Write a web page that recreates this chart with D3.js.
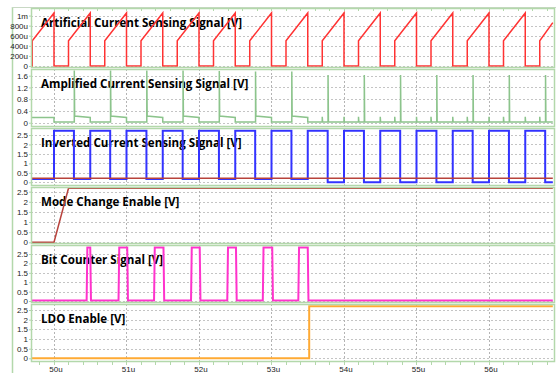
<!DOCTYPE html>
<html>
<head>
<meta charset="utf-8">
<script src="https://cdnjs.cloudflare.com/ajax/libs/d3/7.8.5/d3.min.js"></script>
<style>
body { margin: 0; background: #fff; }
svg { display: block; }
.title { font-family: "Open Sans", sans-serif; font-weight: bold; font-size: 11.6px; fill: #000; }
.tick-label { font-family: "Liberation Sans", Arial, sans-serif; font-size: 8px; fill: #222; }
</style>
</head>
<body>
<div id="chart"></div>
<script>
// time axis (microseconds)
const timeTicks = [50, 51, 52, 53, 54, 55, 56];
const timeLabels = ["50u", "51u", "52u", "53u", "54u", "55u", "56u"];

// panel titles
const titles = [
    "Artificial Current Sensing Signal [V]",
    "Amplified Current Sensing Signal [V]",
    "Inverted Current Sensing Signal [V]",
    "Mode Change Enable [V]",
    "Bit Counter Signal [V]",
    "LDO Enable [V]"
];

// y tick values / labels
const sensingTicks = [0, 0.0002, 0.0004, 0.0006, 0.0008, 0.001];
const sensingLabels = ["0", "200u", "400u", "600u", "800u", "1m"];
const ampTicks = [0, 0.4, 0.8, 1.2, 1.6];
const ampLabels = ["0", "0.4", "0.8", "1.2", "1.6"];
const voltTicks = [0, 0.5, 1, 1.5, 2, 2.5];
const voltLabels = ["0", "0.5", "1", "1.5", "2", "2.5"];

// signals: [time (us), volts]
const artificialSignal = [
    [49.68, 0], [49.70, 0], [49.70, 0.0005], [50.00, 0.00105], [50.00, 0],
    [50.20, 0], [50.20, 0.0005], [50.50, 0.00105], [50.50, 0],
    [50.70, 0], [50.70, 0.0005], [51.00, 0.00105], [51.00, 0],
    [51.20, 0], [51.20, 0.0005], [51.50, 0.00105], [51.50, 0],
    [51.70, 0], [51.70, 0.0005], [52.00, 0.00105], [52.00, 0],
    [52.20, 0], [52.20, 0.0005], [52.50, 0.00105], [52.50, 0],
    [52.70, 0], [52.70, 0.0005], [53.00, 0.00105], [53.00, 0],
    [53.20, 0], [53.20, 0.0005], [53.50, 0.00105], [53.50, 0],
    [53.70, 0], [53.70, 0.0005], [54.00, 0.00105], [54.00, 0],
    [54.20, 0], [54.20, 0.0005], [54.50, 0.00105], [54.50, 0],
    [54.70, 0], [54.70, 0.0005], [55.00, 0.00105], [55.00, 0],
    [55.20, 0], [55.20, 0.0005], [55.50, 0.00105], [55.50, 0],
    [55.70, 0], [55.70, 0.0005], [56.00, 0.00105], [56.00, 0],
    [56.20, 0], [56.20, 0.0005], [56.50, 0.00105], [56.50, 0],
    [56.70, 0], [56.70, 0.0005], [56.88, 0.00086]
];

const amplifiedSignal = [
    [49.68, 0.18], [50.00, 0.18],
    [50.00, 0.02], [50.28, 0.02], [50.28, 1.78], [50.285, 0.23], [50.50, 0.18],
    [50.50, 0.02], [50.78, 0.02], [50.78, 1.78], [50.785, 0.23], [51.00, 0.18],
    [51.00, 0.02], [51.28, 0.02], [51.28, 1.78], [51.285, 0.23], [51.50, 0.18],
    [51.50, 0.02], [51.78, 0.02], [51.78, 1.78], [51.785, 0.23], [52.00, 0.18],
    [52.00, 0.02], [52.28, 0.02], [52.28, 1.76], [52.285, 0.23], [52.50, 0.18],
    [52.50, 0.02], [52.78, 0.02], [52.78, 1.74], [52.785, 0.23], [53.00, 0.18],
    [53.00, 0.02], [53.28, 0.02], [53.28, 1.74], [53.285, 0.23], [53.50, 0.18],
    [53.50, 0.02], [53.70, 0.02], [53.70, 0.20], [53.705, 0.02], [53.78, 0.02], [53.78, 1.62], [53.785, 0.02],
    [54.00, 0.02], [54.00, 0.20], [54.005, 0.02], [54.20, 0.02], [54.20, 0.20], [54.205, 0.02], [54.28, 0.02], [54.28, 1.62], [54.285, 0.02],
    [54.50, 0.02], [54.50, 0.20], [54.505, 0.02], [54.70, 0.02], [54.70, 0.20], [54.705, 0.02], [54.78, 0.02], [54.78, 1.62], [54.785, 0.02],
    [55.00, 0.02], [55.00, 0.20], [55.005, 0.02], [55.20, 0.02], [55.20, 0.20], [55.205, 0.02], [55.28, 0.02], [55.28, 1.62], [55.285, 0.02],
    [55.50, 0.02], [55.50, 0.20], [55.505, 0.02], [55.70, 0.02], [55.70, 0.20], [55.705, 0.02], [55.78, 0.02], [55.78, 1.62], [55.785, 0.02],
    [56.00, 0.02], [56.00, 0.20], [56.005, 0.02], [56.20, 0.02], [56.20, 0.20], [56.205, 0.02], [56.28, 0.02], [56.28, 1.62], [56.285, 0.02],
    [56.50, 0.02], [56.50, 0.20], [56.505, 0.02], [56.70, 0.02], [56.70, 0.20], [56.705, 0.02], [56.78, 0.02], [56.78, 1.62], [56.785, 0.02],
    [56.88, 0.02]
];

const invertedSignal = [
    [49.68, 0.17], [50.00, 0.17],
    [50.00, 2.72], [50.275, 2.72], [50.275, 0.17], [50.50, 0.17],
    [50.50, 2.72], [50.775, 2.72], [50.775, 0.17], [51.00, 0.17],
    [51.00, 2.72], [51.275, 2.72], [51.275, 0.17], [51.50, 0.17],
    [51.50, 2.72], [51.775, 2.72], [51.775, 0.17], [52.00, 0.17],
    [52.00, 2.72], [52.275, 2.72], [52.275, 0.17], [52.50, 0.17],
    [52.50, 2.72], [52.775, 2.72], [52.775, 0.17], [53.00, 0.17],
    [53.00, 2.72], [53.275, 2.72], [53.275, 0.17], [53.50, 0.17],
    [53.50, 2.72], [53.775, 2.72], [53.775, 0], [54.00, 0],
    [54.00, 2.72], [54.275, 2.72], [54.275, 0], [54.50, 0],
    [54.50, 2.72], [54.775, 2.72], [54.775, 0], [55.00, 0],
    [55.00, 2.72], [55.275, 2.72], [55.275, 0], [55.50, 0],
    [55.50, 2.72], [55.775, 2.72], [55.775, 0], [56.00, 0],
    [56.00, 2.72], [56.275, 2.72], [56.275, 0], [56.50, 0],
    [56.50, 2.72], [56.775, 2.72], [56.775, 0], [56.88, 0]
];

const referenceLine = [[49.68, 0.21], [56.88, 0.21]];

const modeEnable = [[49.68, 0], [50.00, 0], [50.20, 2.67], [56.88, 2.67]];

const bitCounter = [
    [49.68, 0.03], [50.45, 0.03], [50.46, 2.85], [50.50, 2.85], [50.51, 0.03],
    [50.89, 0.03], [50.90, 2.85], [51.01, 2.85], [51.02, 0.03],
    [51.38, 0.03], [51.39, 2.85], [51.51, 2.85], [51.52, 0.03],
    [51.89, 0.03], [51.90, 2.85], [52.01, 2.85], [52.02, 0.03],
    [52.39, 0.03], [52.40, 2.85], [52.51, 2.85], [52.52, 0.03],
    [52.88, 0.03], [52.89, 2.85], [53.01, 2.85], [53.02, 0.03],
    [53.37, 0.03], [53.38, 2.85], [53.50, 2.85], [53.51, 0.03],
    [56.88, 0.03]
];

const ldoEnable = [[49.68, 0], [53.52, 0], [53.52, 2.70], [56.88, 2.70]];

// layout
const W = 557, H = 373;
const plotLeft = 31, plotRight = 554;
const frameColor = "#b3d8ab";

const panels = [
    { top: 8,   bottom: 68,  domain: [-0.00004, 0.00115], ticks: sensingTicks, labels: sensingLabels,
      series: [{ data: artificialSignal, color: "#ff3333", w: 1.5 }] },
    { top: 69,  bottom: 127, domain: [-0.146, 1.828], ticks: ampTicks, labels: ampLabels,
      series: [{ data: amplifiedSignal, color: "#8cc48c", w: 1.5 }] },
    { top: 128, bottom: 186, domain: [-0.196, 2.87], ticks: voltTicks, labels: voltLabels,
      series: [{ data: invertedSignal, color: "#3333ff", w: 2 }, { data: referenceLine, color: "#b8423c", w: 1.5 }] },
    { top: 187, bottom: 244, domain: [-0.084, 2.73], ticks: voltTicks, labels: voltLabels,
      series: [{ data: modeEnable, color: "#b8423c", w: 1.5 }] },
    { top: 245, bottom: 303, domain: [-0.106, 2.98], ticks: voltTicks, labels: voltLabels,
      series: [{ data: bitCounter, color: "#ff33cc", w: 2 }] },
    { top: 304, bottom: 362, domain: [-0.19, 2.81], ticks: voltTicks, labels: voltLabels,
      series: [{ data: ldoEnable, color: "#ffaa33", w: 2 }] }
];

const svg = d3.select("#chart")
    .append("svg")
    .attr("width", W)
    .attr("height", H);

svg.append("rect").attr("width", W).attr("height", H).attr("fill", "#fff");

var xScale = d3.scaleLinear()
    .domain([49.68, 56.88])
    .range([30.8, 552.8]);

// outer frame: left strip + top line
svg.append("line")
    .attr("x1", 12.5).attr("x2", 12.5).attr("y1", 7).attr("y2", H)
    .attr("stroke", frameColor).attr("stroke-width", 1.5);
svg.append("line")
    .attr("x1", 12).attr("x2", 556).attr("y1", 7.5).attr("y2", 7.5)
    .attr("stroke", "#c8d8c4");

svg.append("defs").selectAll("clipPath")
    .data(panels)
    .enter().append("clipPath")
    .attr("id", (d, i) => "clip" + i)
    .append("rect")
    .attr("x", plotLeft).attr("y", d => d.top)
    .attr("width", plotRight - plotLeft).attr("height", d => d.bottom - d.top);

panels.forEach(function(p, i) {
    var yScale = d3.scaleLinear().domain(p.domain).range([p.bottom, p.top]);
    var g = svg.append("g");

    // horizontal dotted grid
    g.selectAll(".hgrid")
        .data(p.ticks)
        .enter().append("line")
        .attr("x1", plotLeft).attr("x2", plotRight)
        .attr("y1", d => Math.round(yScale(d)) + 0.5)
        .attr("y2", d => Math.round(yScale(d)) + 0.5)
        .attr("stroke", "#c4c4c4")
        .attr("stroke-dasharray", "2,2");

    // vertical dashed grid
    g.selectAll(".vgrid")
        .data(timeTicks)
        .enter().append("line")
        .attr("x1", d => Math.round(xScale(d)) + 0.5)
        .attr("x2", d => Math.round(xScale(d)) + 0.5)
        .attr("y1", p.top).attr("y2", p.bottom)
        .attr("stroke", "#b4b4b4")
        .attr("stroke-dasharray", "2,2");

    // y axis labels
    var axis = d3.axisLeft(yScale)
        .tickValues(p.ticks)
        .tickFormat((d, k) => p.labels[k])
        .tickSize(2)
        .tickPadding(1);
    var ax = svg.append("g")
        .attr("transform", "translate(" + plotLeft + ",0)")
        .call(axis);
    ax.select(".domain").remove();
    ax.selectAll("line").attr("stroke", frameColor);
    ax.selectAll("text")
        .attr("class", "tick-label")
        .attr("fill", null);

    // title
    svg.append("text")
        .attr("class", "title")
        .attr("x", 41)
        .attr("y", p.top + 18.5)
        .text(titles[i]);

    // signals
    var line = d3.line()
        .x(d => xScale(d[0]))
        .y(d => yScale(d[1]));
    p.series.forEach(function(s) {
        svg.append("path")
            .datum(s.data)
            .attr("clip-path", "url(#clip" + i + ")")
            .attr("fill", "none")
            .attr("stroke", s.color)
            .attr("stroke-width", s.w)
            .attr("stroke-linejoin", "miter")
            .attr("d", line);
    });

    // panel frame
    svg.append("rect")
        .attr("x", plotLeft + 0.5).attr("y", p.top + 0.5)
        .attr("width", plotRight - plotLeft).attr("height", p.bottom - p.top - 1)
        .attr("fill", "none")
        .attr("stroke", frameColor)
        .attr("stroke-width", 1.5);
});

// minor ticks along top and bottom
var minorTicks = d3.range(49.8, 56.9, 0.2);
svg.append("g").selectAll("line")
    .data(minorTicks)
    .enter().append("line")
    .attr("x1", d => Math.round(xScale(d)) + 0.5)
    .attr("x2", d => Math.round(xScale(d)) + 0.5)
    .attr("y1", 362).attr("y2", 365)
    .attr("stroke", frameColor);
svg.append("g").selectAll("line")
    .data(minorTicks)
    .enter().append("line")
    .attr("x1", d => Math.round(xScale(d)) + 0.5)
    .attr("x2", d => Math.round(xScale(d)) + 0.5)
    .attr("y1", 8).attr("y2", 11)
    .attr("stroke", frameColor);

// x axis labels
svg.append("g").selectAll("text")
    .data(timeTicks)
    .enter().append("text")
    .attr("class", "tick-label")
    .attr("x", d => xScale(d) + 2)
    .attr("y", 372)
    .attr("text-anchor", "middle")
    .text((d, i) => timeLabels[i]);
</script>
</body>
</html>
